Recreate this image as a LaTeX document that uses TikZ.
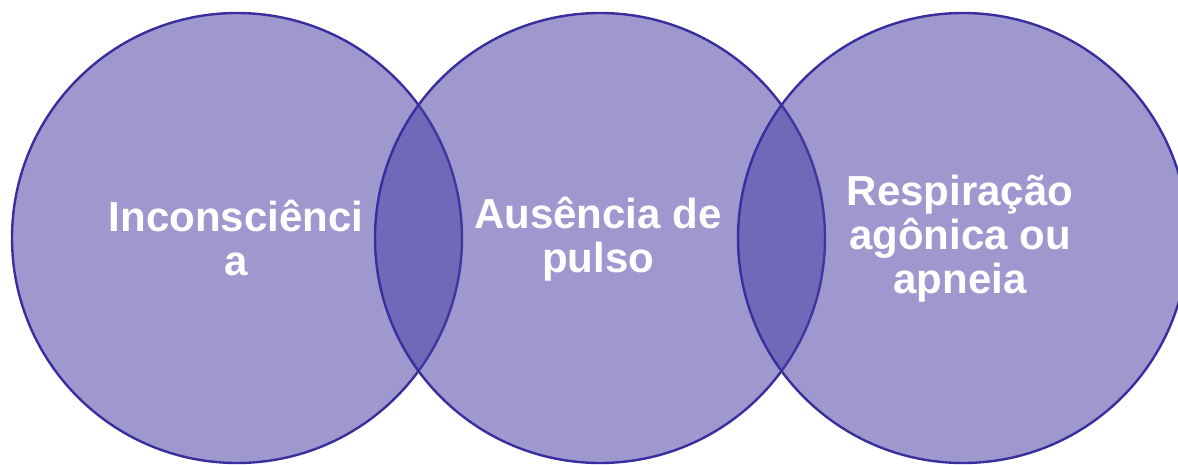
\documentclass[tikz,border=0pt]{standalone}
\usepackage{fontspec}
\setmainfont{Liberation Sans}
\usepackage{tikz}
\usetikzlibrary{positioning}

\definecolor{vennFill}{RGB}{74,61,165}
\definecolor{vennLine}{RGB}{58,46,158}

\begin{document}
\begin{tikzpicture}[x=1pt, y=1pt,
        vennCircle/.style={circle, minimum size=450pt, inner sep=0pt,
            fill=vennFill, fill opacity=0.53, draw=vennLine, draw opacity=1, line width=2.4pt},
        vennLabel/.style={text=white, align=center, inner sep=0pt,
            font=\fontsize{42}{44}\selectfont\bfseries}]
        % page frame, 1178 x 464
        \clip (0, 0) rectangle (1178, -464);
        \useasboundingbox (0, 0) rectangle (1178, -464);
        % the three circles
        \node [vennCircle] (circLeft) at (237, -238) {};
        \node [vennCircle] (circMid) at (600, -238) {};
        \node [vennCircle] (circRight) at (963, -238) {};
        % labels
        \node [vennLabel] (labelLeft) at (236, -238) {Inconsciênci\\a};
        \node [vennLabel] (labelMid) at (598, -239) {Ausência de\\pulso};
        \node [vennLabel] (labelRight) at (960, -239) {Respiração\\agônica ou\\apneia};
    \end{tikzpicture}
\end{document}
